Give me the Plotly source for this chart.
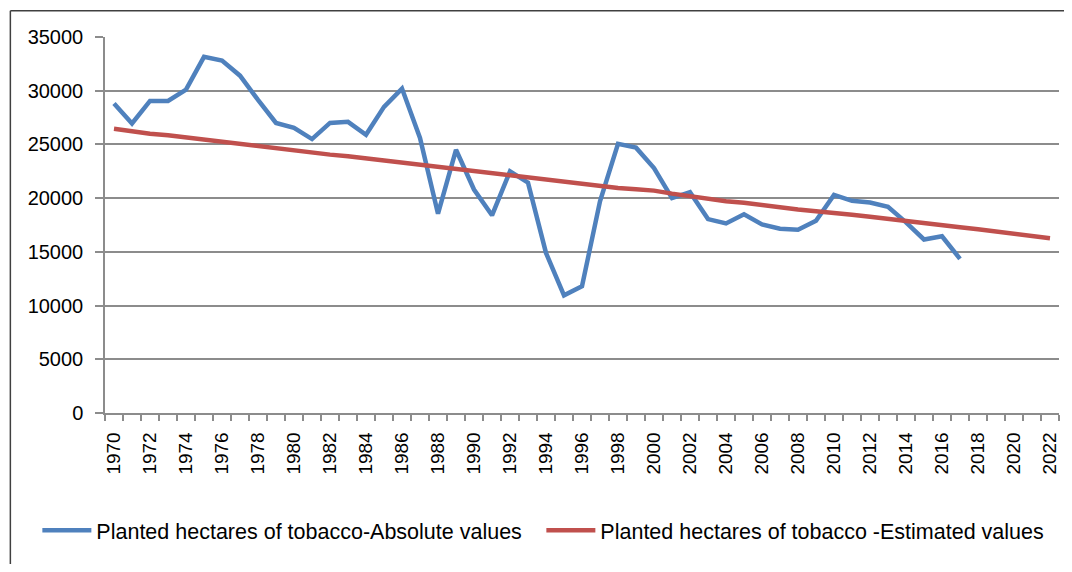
import plotly.graph_objects as go

years = list(range(1970, 2023))

absolute_years = list(range(1970, 2018))
absolute_values = [
    28800, 26950, 29050, 29050, 30100, 33150, 32800, 31400, 29150, 27000,
    26550, 25500, 27000, 27100, 25900, 28500, 30200, 25600, 18550, 24500,
    20800, 18400, 22500, 21450, 14900, 10950, 11800, 19700, 25050, 24700,
    22800, 20000, 20550, 18050, 17650, 18500, 17550, 17150, 17050, 17900,
    20300, 19750, 19600, 19200, 17750, 16150, 16450, 14350,
]

estimated_values = [
    26450, 26200, 26000, 25850, 25650, 25400, 25150, 24970, 24820, 24650,
    24430, 24220, 24050, 23900, 23700, 23500, 23300, 23080, 22900, 22700,
    22500, 22330, 22150, 21900, 21780, 21550, 21330, 21130, 20950, 20830,
    20700, 20420, 20180, 19930, 19720, 19580, 19350, 19150, 18950, 18780,
    18650, 18450, 18260, 18050, 17850, 17700, 17480, 17290, 17110, 16900,
    16650, 16500, 16270,
]

label_years = list(range(1970, 2023, 2))

name_abs = "Planted hectares of tobacco-Absolute values"
name_est = "Planted hectares of tobacco -Estimated values"

BLUE = "#4F81BD"
RED = "#C0504D"
GRID = "#8C8C8C"
FONT = "Liberation Sans, Arial, sans-serif"

fig = go.Figure()
fig.add_trace(go.Scatter(x=absolute_years, y=absolute_values, mode="lines",
                         name=name_abs, line=dict(color=BLUE, width=4.5)))
fig.add_trace(go.Scatter(x=years, y=estimated_values, mode="lines",
                         name=name_est, line=dict(color=RED, width=4.5)))

border = dict(color="#404040", width=1.5)

fig.update_layout(
    width=1056, height=556,
    margin=dict(l=97, r=5, t=29, b=151, autoexpand=False),
    paper_bgcolor="white", plot_bgcolor="white",
    font=dict(family=FONT, color="#000000", size=19),
    showlegend=True,
    legend=dict(orientation="h", x=-0.0709, xanchor="left", y=-0.312, yanchor="middle",
                font=dict(size=21.5, family=FONT), itemwidth=49, entrywidth=440,
                traceorder="normal"),
    xaxis=dict(
        range=[1969.5, 2022.5], tickmode="array", tickvals=label_years,
        ticktext=[str(y) for y in label_years], tickangle=-90, ticks="",
        showgrid=False, zeroline=False, showline=True, linecolor=GRID, linewidth=1.5,
        tickfont=dict(size=19, family=FONT), ticklabelstandoff=10,
        minor=dict(ticks="outside", tick0=1969.5, dtick=1, ticklen=6,
                   tickcolor=GRID, tickwidth=1.5, showgrid=False),
    ),
    yaxis=dict(
        range=[0, 35000], dtick=5000, tick0=0, tickformat="d",
        showgrid=True, gridcolor=GRID, gridwidth=1.5,
        zeroline=False, showline=True, linecolor=GRID, linewidth=1.5,
        ticks="outside", ticklen=8, tickcolor=GRID, tickwidth=1.5,
        tickfont=dict(size=20, family=FONT), ticklabelstandoff=8,
    ),
    shapes=[
        dict(type="line", xref="paper", yref="paper",
             x0=-0.0992, x1=1.2, y0=1.07, y1=1.07, line=border, layer="below"),
        dict(type="line", xref="paper", yref="paper",
             x0=-0.0992, x1=-0.0992, y0=-0.8, y1=1.07, line=border, layer="below"),
    ],
)

fig.write_html("out.html")
